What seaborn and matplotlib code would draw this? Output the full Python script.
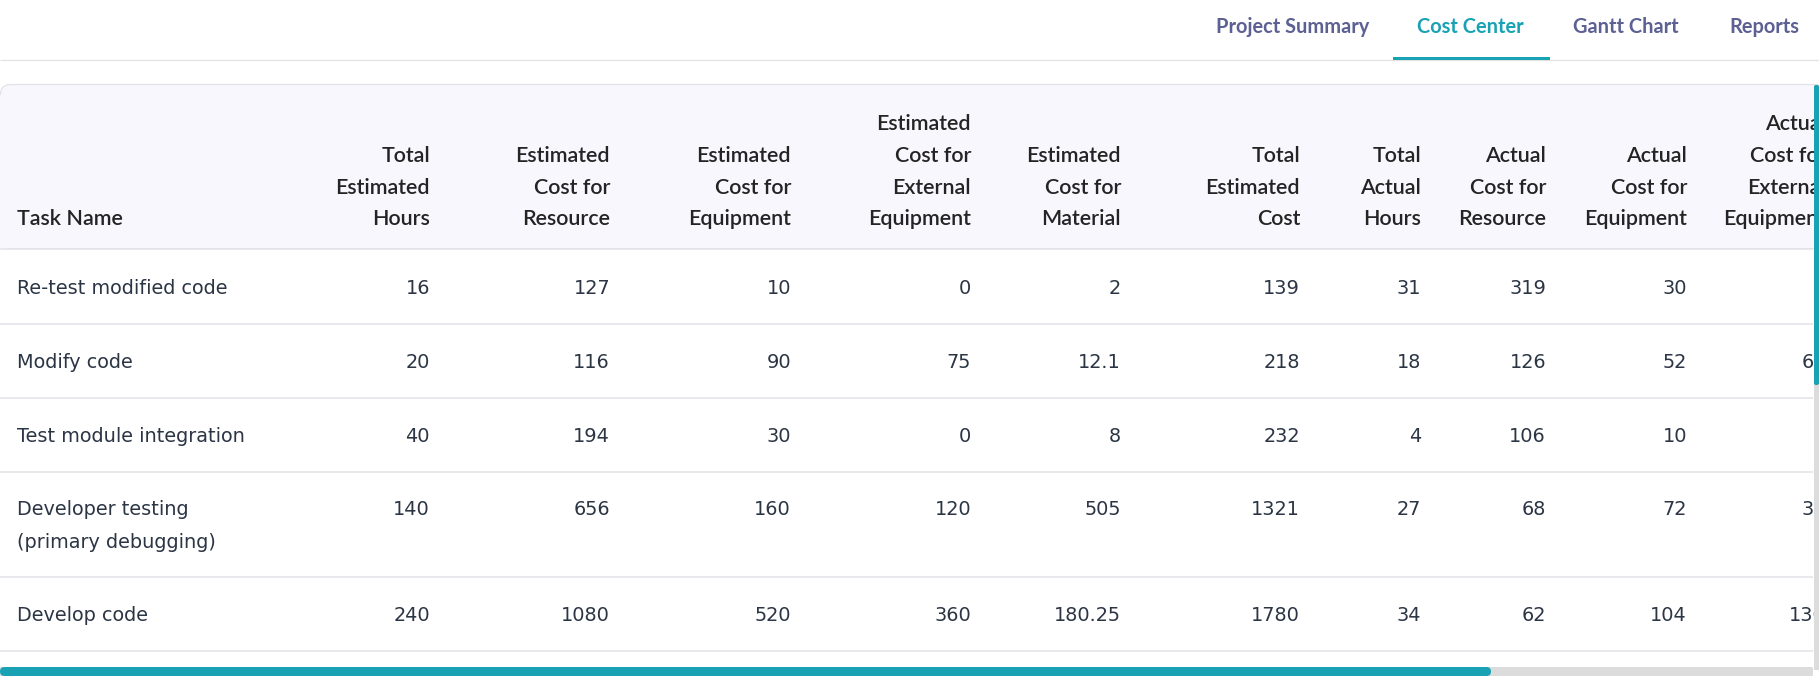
import matplotlib
matplotlib.use("Agg")
import matplotlib.pyplot as plt
from matplotlib.patches import Rectangle, FancyBboxPatch
import seaborn as sns

# ---------------- data ----------------
tabs = ["Project Summary", "Cost Center", "Gantt Chart", "Reports"]
active_tab = "Cost Center"

headers = [
    ["Task Name"],
    ["Total", "Estimated", "Hours"],
    ["Estimated", "Cost for", "Resource"],
    ["Estimated", "Cost for", "Equipment"],
    ["Estimated", "Cost for", "External", "Equipment"],
    ["Estimated", "Cost for", "Material"],
    ["Total", "Estimated", "Cost"],
    ["Total", "Actual", "Hours"],
    ["Actual", "Cost for", "Resource"],
    ["Actual", "Cost for", "Equipment"],
    ["Actual", "Cost for", "External", "Equipment"],
]

task_names = [
    ["Re-test modified code"],
    ["Modify code"],
    ["Test module integration"],
    ["Developer testing", "(primary debugging)"],
    ["Develop code"],
]
total_est_hours = ["16", "20", "40", "140", "240"]
est_cost_resource = ["127", "116", "194", "656", "1080"]
est_cost_equipment = ["10", "90", "30", "160", "520"]
est_cost_ext_equipment = ["0", "75", "0", "120", "360"]
est_cost_material = ["2", "12.1", "8", "505", "180.25"]
total_est_cost = ["139", "218", "232", "1321", "1780"]
total_actual_hours = ["31", "18", "4", "27", "34"]
actual_cost_resource = ["319", "126", "106", "68", "62"]
actual_cost_equipment = ["30", "52", "10", "72", "104"]
actual_cost_ext_equipment = ["0", "60", "0", "30", "130"]

value_columns = [total_est_hours, est_cost_resource, est_cost_equipment,
                 est_cost_ext_equipment, est_cost_material, total_est_cost,
                 total_actual_hours, actual_cost_resource, actual_cost_equipment,
                 actual_cost_ext_equipment]

# ---------------- style / layout ----------------
sns.set_theme(style="white")
plt.rcParams["font.family"] = ["DejaVu Sans"]

W, H = 1819, 681
DPI = 100
PX = 72.0 / DPI  # points per pixel

fig = plt.figure(figsize=(W / DPI, H / DPI), dpi=DPI)
ax = fig.add_axes([0, 0, 1, 1])
ax.set_xlim(0, W)
ax.set_ylim(H, 0)
ax.set_axis_off()

tab_color = "#5c6092"
teal = "#19a2b4"
header_txt = "#242424"
body_txt = "#2b3544"
line_col = "#e3e4e9"
header_bg = "#f7f7fd"
lato = ["Lato", "DejaVu Sans"]

# tabs
tab_x = [1216, 1417, 1573, 1729]
for t, x in zip(tabs, tab_x):
    ax.text(x, 33, t, ha="left", va="baseline", fontsize=20 * PX,
            family=lato, fontweight="bold",
            color=teal if t == active_tab else tab_color)
ax.plot([0, W], [59.5, 59.5], color="#e2e2e2", lw=1.2 * PX, solid_capstyle="butt")
ax.add_patch(Rectangle((1393, 57), 157, 3, color=teal, lw=0, zorder=3))

# card header (rounded top-left corner)
card_top = 84
header_bottom = 248
ax.add_patch(FancyBboxPatch((0.5, card_top + 0.5), 1900, header_bottom - card_top,
                            boxstyle="round,pad=0,rounding_size=10",
                            facecolor=header_bg, edgecolor="#e2e2e9", lw=1.2 * PX, zorder=1.5))
ax.add_patch(Rectangle((0, card_top + 11), 1900, header_bottom - card_top - 11,
                       facecolor=header_bg, edgecolor="none", zorder=1.6))

row_bounds = [248, 323, 397, 471, 576, 650]
for yb in row_bounds:
    ax.plot([0, 1813], [yb + 0.5, yb + 0.5], color=line_col, lw=1.6 * PX, zorder=2,
            solid_capstyle="butt")

clip = Rectangle((0, 0), 1813, H, transform=ax.transData)

# header text
col_right = [430, 610, 791, 971, 1121, 1300, 1421, 1546, 1687, 1826]
last_base = 225
lh = 31.5
for ci, lines in enumerate(headers):
    n = len(lines)
    for li, s in enumerate(lines):
        yb = last_base - (n - 1 - li) * lh
        if ci == 0:
            x, ha = 17, "left"
        else:
            x, ha = col_right[ci - 1], "right"
        t = ax.text(x, yb, s, ha=ha, va="baseline", fontsize=21.5 * PX,
                    family=lato, fontweight="semibold",
                    color=header_txt, zorder=4)
        t.set_clip_path(clip)

# body text
body_size = 19.3 * PX
row_base = [294, 368, 442, 515, 621]
body_lh = 33
for ri in range(len(task_names)):
    for li, s in enumerate(task_names[ri]):
        ax.text(17, row_base[ri] + li * body_lh, s, ha="left", va="baseline",
                fontsize=body_size, color=body_txt, zorder=4)
    for ci, col in enumerate(value_columns):
        t = ax.text(col_right[ci], row_base[ri], col[ri], ha="right", va="baseline",
                    fontsize=body_size, color=body_txt, zorder=4)
        t.set_clip_path(clip)

# scrollbars
ax.add_patch(FancyBboxPatch((0, 667), 1813, 9, boxstyle="round,pad=0,rounding_size=1",
                            facecolor="#dcdcdc", edgecolor="none", zorder=5))
ax.add_patch(FancyBboxPatch((0, 667), 1491, 9, boxstyle="round,pad=0,rounding_size=4.5",
                            facecolor=teal, edgecolor="none", zorder=6))
ax.add_patch(Rectangle((1814, 85), 5, 585, facecolor="#dcdcdc", edgecolor="none", zorder=5))
ax.add_patch(FancyBboxPatch((1814, 85), 5, 300, boxstyle="round,pad=0,rounding_size=2",
                            facecolor=teal, edgecolor="none", zorder=6))

fig.savefig("out.png", dpi=DPI, facecolor="white")
